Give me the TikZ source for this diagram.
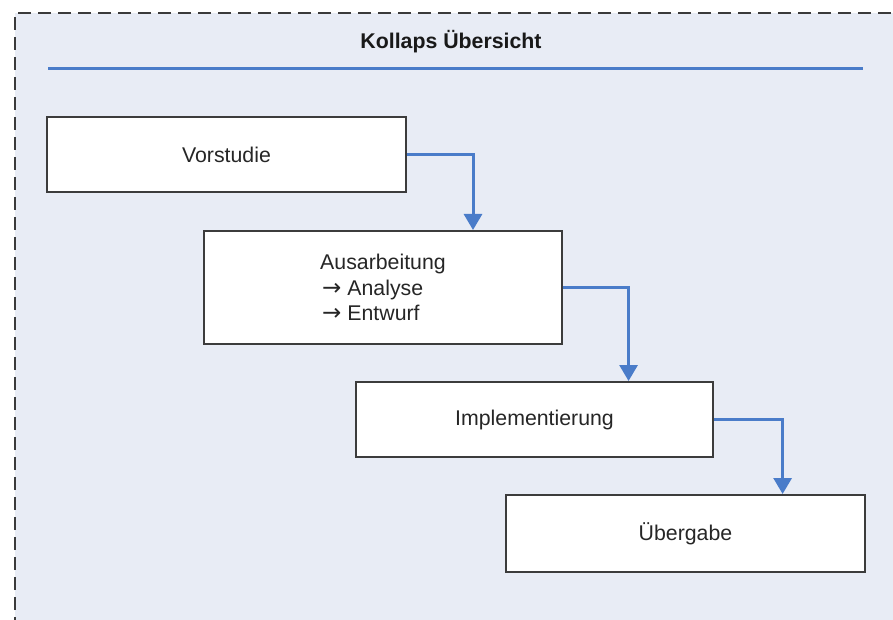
\documentclass[tikz,border=0pt]{standalone}
\usepackage{fontspec}
\setmainfont{Liberation Sans}
\newfontfamily\arrowfont{DejaVu Sans}
\usetikzlibrary{arrows.meta,calc}
\definecolor{bgblue}{HTML}{E8ECF5}
\definecolor{lineblue}{HTML}{4A7CC9}
\definecolor{boxgray}{HTML}{3C3C3C}
\definecolor{framegray}{HTML}{3A3A3A}
\newcommand{\arr}{{\arrowfont\fontsize{23}{25}\selectfont →}}
\tikzset{
  stage/.style={draw=boxgray, line width=2pt, fill=white, minimum width=#1, inner sep=0pt, font=\fontsize{21.3}{25.5}\selectfont, text=black!85},
  flow/.style={draw=lineblue, line width=3pt, -{Triangle[width=18pt,length=16pt]}},
  rule/.style={draw=lineblue, line width=3pt},
}
\begin{document}
\begin{tikzpicture}[x=1pt,y=-1pt]
\useasboundingbox (0,0) rectangle (893,620);
\clip (0,0) rectangle (893,620);
\fill[bgblue] (15,13) rectangle (920,650);
\draw[framegray, line width=2.2pt, dash pattern=on 13pt off 7pt] (15,650) -- (15,13) -- (920,13);
\node[font=\bfseries\fontsize{21.3}{25}\selectfont, text=black!90] (title) at (451,42) {Kollaps Übersicht};
\coordinate (rl) at (48,69);
\coordinate (rr) at (863,69);
\draw[rule] (rl) -- (rr);
\node[stage=359pt, minimum height=75pt] (v) at (226.5,154.5) {Vorstudie};
\node[stage=358pt, minimum height=113pt, align=left] (a) at (383,287.5) {Ausarbeitung\\\hspace{2pt}\arr\ Analyse\\\hspace{2pt}\arr\ Entwurf};
\node[stage=357pt, minimum height=75pt] (i) at (534.5,419.5) {Implementierung};
\node[stage=359pt, minimum height=77pt] (u) at (685.5,533.5) {Übergabe};
\draw[flow] (v.east) -| ($(a.north west)!0.75!(a.north east)$);
\draw[flow] (a.east) -| ($(i.north west)!0.762!(i.north east)$);
\draw[flow] (i.east) -| ($(u.north west)!0.769!(u.north east)$);
\end{tikzpicture}
\end{document}
